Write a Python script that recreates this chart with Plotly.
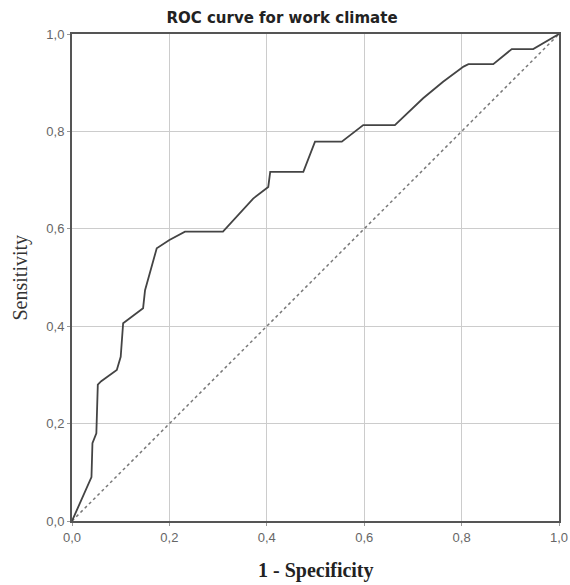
import plotly.graph_objects as go

fpr = [0.0, 0.04, 0.042, 0.05, 0.053, 0.06, 0.092, 0.10, 0.105, 0.146, 0.15, 0.174, 0.2, 0.232,
       0.31, 0.372, 0.403, 0.407, 0.475, 0.499, 0.554, 0.598, 0.663, 0.721, 0.762, 0.804,
       0.814, 0.865, 0.903, 0.947, 1.0]
tpr = [0.0, 0.09, 0.16, 0.18, 0.28, 0.287, 0.31, 0.337, 0.406, 0.437, 0.474, 0.56, 0.577, 0.594,
       0.594, 0.662, 0.686, 0.717, 0.717, 0.779, 0.779, 0.813, 0.813, 0.868, 0.902, 0.933,
       0.938, 0.938, 0.969, 0.969, 1.0]
ref_x = [0.0, 1.0]
ref_y = [0.0, 1.0]
ticks = [0.0, 0.2, 0.4, 0.6, 0.8, 1.0]

fig = go.Figure()
fig.add_trace(go.Scatter(x=ref_x, y=ref_y, mode="lines",
                         line=dict(color="#777777", width=1.5, dash="dot"), showlegend=False))
fig.add_trace(go.Scatter(x=fpr, y=tpr, mode="lines",
                         line=dict(color="#444444", width=1.8), showlegend=False))

axis_common = dict(range=[0, 1], tickvals=ticks, tickformat=".1f", showgrid=True,
                   gridcolor="#cccccc", gridwidth=1, showline=True, linecolor="#555555",
                   linewidth=2, mirror=True, zeroline=False, ticks="outside", ticklen=3,
                   tickcolor="#999999", automargin=False,
                   tickfont=dict(family="Liberation Sans, Arial", size=13, color="#666666"))

W, H = 570, 585
fig.update_layout(
    width=W, height=H,
    margin=dict(l=72, r=11, t=34, b=64),
    paper_bgcolor="white", plot_bgcolor="white",
    separators=",.",
    title=dict(text="<b>ROC curve for work climate</b>", x=282 / W, xanchor="center",
               y=1 - 18 / H, yanchor="middle",
               font=dict(family="DejaVu Sans", size=15, color="#222222")),
    xaxis=dict(**axis_common),
    yaxis=dict(**axis_common),
    annotations=[
        dict(text="<b>1 - Specificity</b>", xref="paper", yref="paper", x=0.5, y=-49 / 487,
             xanchor="center", yanchor="middle", showarrow=False,
             font=dict(family="Liberation Serif, Times New Roman", size=20, color="#222222")),
        dict(text="Sensitivity", xref="paper", yref="paper", x=-52 / 487, y=0.5,
             xanchor="center", yanchor="middle", showarrow=False, textangle=-90,
             font=dict(family="Liberation Serif, Times New Roman", size=20, color="#333333")),
    ],
)

# remove the default 8px page margin so the figure fills the window exactly
fig.write_html("out.html", config={"displayModeBar": False},
               post_script="document.body.style.margin='0';document.body.style.overflow='hidden';")
